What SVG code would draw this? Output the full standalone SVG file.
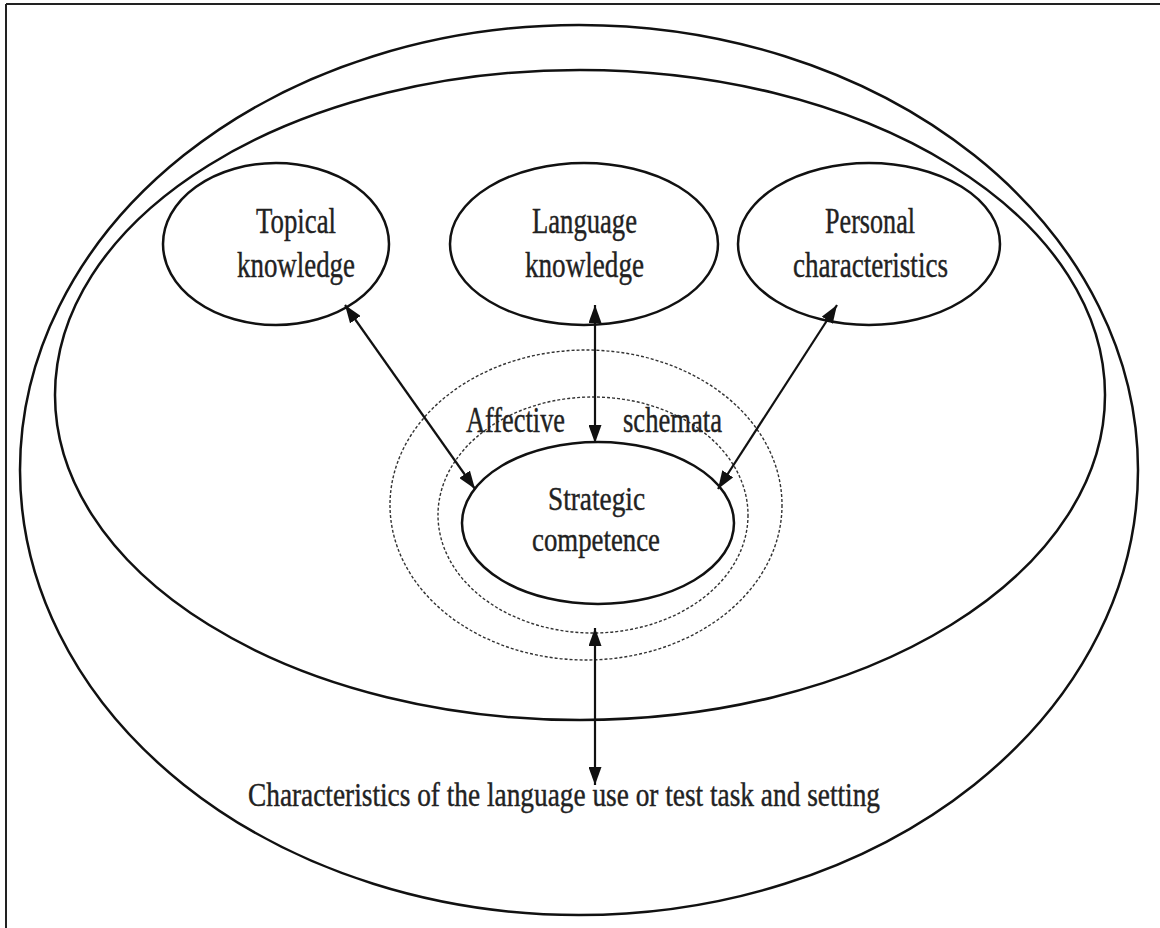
<svg xmlns="http://www.w3.org/2000/svg" width="1160" height="928" viewBox="0 0 1160 928">
  <defs>
    <marker id="head" viewBox="0 0 18 13" refX="18" refY="6.5" markerWidth="18" markerHeight="13" markerUnits="userSpaceOnUse" orient="auto-start-reverse">
      <path d="M0,0 L18,6.5 L0,13 Z" fill="#111"/>
    </marker>
  </defs>
  <style>
    .frame { stroke: #222; stroke-width: 2; fill: none; }
    .ring { stroke: #111; stroke-width: 2.5; fill: none; }
    .node { stroke: #111; stroke-width: 2.5; fill: none; }
    .dash { stroke: #333; stroke-width: 1.4; fill: none; stroke-dasharray: 3 2; }
    .link { stroke: #111; stroke-width: 2.2; fill: none; marker-start: url(#head); marker-end: url(#head); }
    text { font-family: "Liberation Serif", "Times New Roman", serif; fill: #222; stroke: #222; stroke-width: 0.4; text-anchor: start; }
    .lbl { font-size: 36px; }
    .mid { font-size: 34px; }
    .big { font-size: 33px; }
  </style>
  <rect width="1160" height="928" fill="#fff"/>
  <!-- page frame -->
  <line class="frame" x1="6" y1="4" x2="1160" y2="4" stroke="#777"/>
  <line class="frame" x1="6" y1="4" x2="6" y2="928"/>

  <!-- setting and individual context -->
  <g id="setting">
    <ellipse class="ring" cx="579" cy="470" rx="559" ry="445"/>
    <text class="big" x="248" y="806" textLength="632" lengthAdjust="spacingAndGlyphs">Characteristics of the language use or test task and setting</text>
  </g>
  <g id="individual">
    <ellipse class="ring" cx="580" cy="395" rx="525" ry="325"/>
  </g>

  <g id="topical">
    <ellipse class="node" cx="276" cy="244" rx="113" ry="81"/>
    <text class="lbl" x="256" y="233" textLength="80" lengthAdjust="spacingAndGlyphs">Topical</text>
    <text class="lbl" x="237" y="277" textLength="118" lengthAdjust="spacingAndGlyphs">knowledge</text>
  </g>
  <g id="language">
    <ellipse class="node" cx="584" cy="244" rx="134" ry="81"/>
    <text class="lbl" x="532" y="233" textLength="105" lengthAdjust="spacingAndGlyphs">Language</text>
    <text class="lbl" x="525" y="277" textLength="119" lengthAdjust="spacingAndGlyphs">knowledge</text>
  </g>
  <g id="personal">
    <ellipse class="node" cx="869" cy="244" rx="131" ry="81"/>
    <text class="lbl" x="825" y="233" textLength="90" lengthAdjust="spacingAndGlyphs">Personal</text>
    <text class="lbl" x="793" y="277" textLength="155" lengthAdjust="spacingAndGlyphs">characteristics</text>
  </g>

  <g id="affective">
    <ellipse class="dash" cx="586" cy="505" rx="196" ry="155"/>
    <ellipse class="dash" cx="593" cy="515" rx="155" ry="118"/>
    <text class="lbl" x="466" y="432" textLength="99" lengthAdjust="spacingAndGlyphs">Affective</text>
    <text class="lbl" x="623" y="432" textLength="99" lengthAdjust="spacingAndGlyphs">schemata</text>
  </g>
  <g id="strategic">
    <ellipse class="node" cx="598" cy="523" rx="136" ry="81"/>
    <text class="mid" x="548" y="510" textLength="97" lengthAdjust="spacingAndGlyphs">Strategic</text>
    <text class="mid" x="532" y="551" textLength="128" lengthAdjust="spacingAndGlyphs">competence</text>
  </g>

  <g id="connectors">
    <line class="link" x1="345" y1="305" x2="475" y2="489"/>
    <line class="link" x1="595" y1="305" x2="595" y2="443"/>
    <line class="link" x1="837" y1="305" x2="718" y2="489"/>
    <line class="link" x1="595" y1="628" x2="595" y2="785"/>
  </g>
</svg>
